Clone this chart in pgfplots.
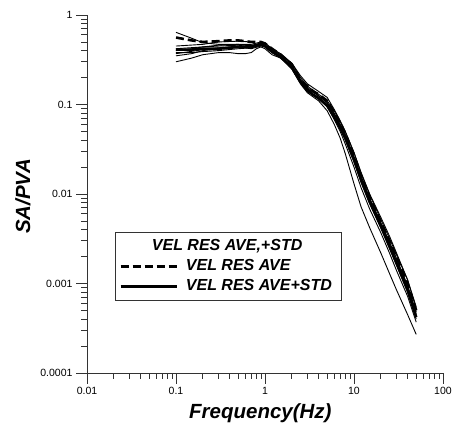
\documentclass[border=0pt]{standalone}
\usepackage{pgfplots}
\pgfplotsset{compat=1.18}
\usepackage{fontspec}
\setmainfont{Liberation Sans}
\begin{document}
\begin{tikzpicture}
\begin{axis}[
  xmode=log, ymode=log,
  xmin=0.01, xmax=100, ymin=0.0001, ymax=1,
  scale only axis, width=356pt, height=358pt,
  axis x line*=bottom, axis y line*=left,
  axis line style={-, line width=0.8pt, draw=black!80},
  tick align=outside,
  tick style={line width=0.8pt, draw=black!80},
  major tick length=11pt, minor tick length=6pt,
  xtick={0.01,0.1,1,10,100}, xticklabels={0.01,0.1,1,10,100},
  ytick={0.0001,0.001,0.01,0.1,1}, yticklabels={0.0001,0.001,0.01,0.1,1},
  minor xtick={0.02,0.03,0.04,0.05,0.06,0.07,0.08,0.09,0.2,0.3,0.4,0.5,0.6,0.7,0.8,0.9,2,3,4,5,6,7,8,9,20,30,40,50,60,70,80,90},
  minor ytick={0.0002,0.0003,0.0004,0.0005,0.0006,0.0007,0.0008,0.0009,0.002,0.003,0.004,0.005,0.006,0.007,0.008,0.009,0.02,0.03,0.04,0.05,0.06,0.07,0.08,0.09,0.2,0.3,0.4,0.5,0.6,0.7,0.8,0.9},
  ticklabel style={font=\fontsize{10.5}{12}\selectfont},
  /pgf/number format/assume math mode=true,
  xlabel={Frequency(Hz)}, ylabel={SA/PVA},
  xlabel style={at={(axis description cs:0.487,-0.1257)}, anchor=base, font=\fontsize{20.5}{24}\selectfont\bfseries\itshape},
  ylabel style={at={(axis description cs:-0.160,0.493)}, anchor=base, font=\fontsize{20.5}{24}\selectfont\bfseries\itshape},
  legend cell align=left,
  legend style={at={(0.0787,0.3939)}, anchor=north west, draw=black!80, line width=0.6pt,
    font=\fontsize{16}{20}\selectfont\bfseries\itshape,
    inner xsep=4pt, inner ysep=4pt, row sep=0pt,
    nodes={inner sep=2pt, text height=12pt, text depth=4pt},
    /tikz/every odd column/.append style={column sep=6pt}},
  legend image code/.code={\draw[#1] (0pt,0pt) -- (56pt,0pt);},
]
\addlegendimage{empty legend}
\addlegendentry{\hspace*{-34pt}VEL RES AVE,+STD}
% AVE (dashed)
\addplot[black, line width=2.6pt, dash pattern=on 8pt off 4pt] coordinates {
(0.1,0.56)(0.15,0.52)(0.2,0.50)(0.3,0.51)(0.4,0.52)(0.5,0.52)(0.6,0.51)(0.7,0.50)(0.8,0.50)(0.9,0.50)(1,0.48)(1.2,0.42)(1.5,0.36)(2,0.28)(2.5,0.19)(3,0.16)(3.5,0.14)(4,0.13)(5,0.11)(6,0.082)(7,0.062)(8,0.047)(10,0.027)(12,0.016)(15,0.0092)(20,0.0049)(25,0.0030)(30,0.0020)(40,0.00098)(50,0.00050)};
\addlegendentry{VEL RES AVE}
% AVE+STD (solid thick)
\addplot[black, line width=2.6pt] coordinates {
(0.1,0.41)(0.15,0.41)(0.2,0.42)(0.3,0.42)(0.4,0.43)(0.5,0.44)(0.6,0.44)(0.7,0.45)(0.8,0.46)(0.9,0.47)(1,0.45)(1.2,0.39)(1.5,0.34)(2,0.26)(2.5,0.18)(3,0.145)(3.5,0.128)(4,0.118)(5,0.097)(6,0.072)(7,0.055)(8,0.042)(10,0.024)(12,0.0145)(15,0.0082)(20,0.0044)(25,0.0026)(30,0.0017)(40,0.00085)(50,0.00042)};
\addlegendentry{VEL RES AVE+STD\hspace*{3pt}}
% individual records (thin)
\addplot[black, line width=0.9pt, forget plot] coordinates {
(0.1,0.64)(0.15,0.55)(0.2,0.49)(0.3,0.47)(0.5,0.47)(0.7,0.47)(0.9,0.50)(1,0.49)(1.2,0.42)(1.5,0.37)(2,0.29)(2.5,0.20)(3,0.16)(4,0.13)(5,0.11)(6,0.085)(7,0.064)(8,0.049)(10,0.029)(12,0.017)(15,0.0098)(20,0.0052)(25,0.0032)(30,0.0021)(40,0.0011)(50,0.00055)};
\addplot[black, line width=0.9pt, forget plot] coordinates {
(0.1,0.30)(0.15,0.33)(0.2,0.36)(0.3,0.38)(0.4,0.38)(0.5,0.37)(0.6,0.37)(0.7,0.38)(0.8,0.42)(0.9,0.44)(1,0.42)(1.2,0.36)(1.5,0.33)(2,0.26)(2.5,0.18)(3,0.14)(4,0.115)(5,0.095)(6,0.070)(7,0.053)(8,0.040)(10,0.023)(12,0.0135)(15,0.0078)(20,0.0042)(25,0.0025)(30,0.0016)(40,0.00080)(50,0.00040)};
\addplot[black, line width=0.9pt, forget plot] coordinates {
(0.1,0.38)(0.15,0.38)(0.2,0.39)(0.3,0.40)(0.5,0.42)(0.7,0.43)(0.9,0.46)(1,0.44)(1.2,0.38)(1.5,0.34)(2,0.25)(2.5,0.17)(3,0.135)(4,0.11)(5,0.085)(6,0.060)(7,0.042)(8,0.028)(10,0.013)(12,0.0072)(15,0.0042)(20,0.0022)(25,0.0013)(30,0.00085)(40,0.00045)(50,0.00027)};
\addplot[black, line width=0.9pt, forget plot] coordinates {
(0.1,0.42)(0.2,0.44)(0.3,0.45)(0.5,0.46)(0.7,0.44)(0.9,0.47)(1,0.46)(1.2,0.41)(1.5,0.36)(2,0.28)(2.5,0.19)(3,0.155)(4,0.125)(5,0.105)(6,0.080)(7,0.060)(8,0.046)(10,0.026)(12,0.0155)(15,0.0088)(20,0.0047)(25,0.0029)(30,0.0019)(40,0.00095)(50,0.00048)};
\addplot[black, line width=0.9pt, forget plot] coordinates {
(0.1,0.35)(0.15,0.37)(0.2,0.40)(0.3,0.42)(0.5,0.44)(0.7,0.42)(0.9,0.45)(1,0.44)(1.2,0.38)(1.5,0.33)(2,0.25)(2.5,0.175)(3,0.14)(4,0.12)(5,0.10)(6,0.078)(7,0.058)(8,0.043)(10,0.024)(12,0.014)(15,0.0080)(20,0.0043)(25,0.0026)(30,0.0017)(40,0.00088)(50,0.00044)};
\addplot[black, line width=0.9pt, forget plot] coordinates {
(0.1,0.45)(0.2,0.47)(0.3,0.50)(0.5,0.51)(0.7,0.50)(0.8,0.47)(0.9,0.49)(1,0.48)(1.2,0.41)(1.5,0.36)(2,0.29)(2.5,0.21)(3,0.17)(4,0.14)(5,0.12)(6,0.088)(7,0.066)(8,0.050)(10,0.029)(12,0.0175)(15,0.0100)(20,0.0055)(25,0.0034)(30,0.0022)(40,0.0011)(50,0.00052)};
\addplot[black, line width=0.9pt, forget plot] coordinates {
(0.1,0.40)(0.15,0.42)(0.2,0.44)(0.3,0.46)(0.5,0.47)(0.7,0.45)(0.8,0.47)(0.9,0.48)(1,0.46)(1.2,0.40)(1.5,0.35)(2,0.27)(2.5,0.185)(3,0.15)(4,0.125)(5,0.105)(6,0.078)(7,0.059)(8,0.045)(10,0.026)(12,0.016)(15,0.0090)(20,0.0048)(25,0.0029)(30,0.0019)(40,0.00093)(50,0.00046)};
\addplot[black, line width=0.9pt, forget plot] coordinates {
(0.1,0.37)(0.2,0.41)(0.3,0.43)(0.5,0.45)(0.7,0.43)(0.9,0.46)(1,0.45)(1.2,0.39)(1.5,0.34)(2,0.26)(2.5,0.175)(3,0.14)(4,0.118)(5,0.095)(6,0.068)(7,0.050)(8,0.036)(10,0.020)(12,0.0118)(15,0.0068)(20,0.0037)(25,0.0022)(30,0.0014)(40,0.00072)(50,0.00037)};
\end{axis}
\pgfresetboundingbox
\path[use as bounding box] (-87pt,-52pt) rectangle (366pt,373pt);
\end{tikzpicture}
\end{document}
